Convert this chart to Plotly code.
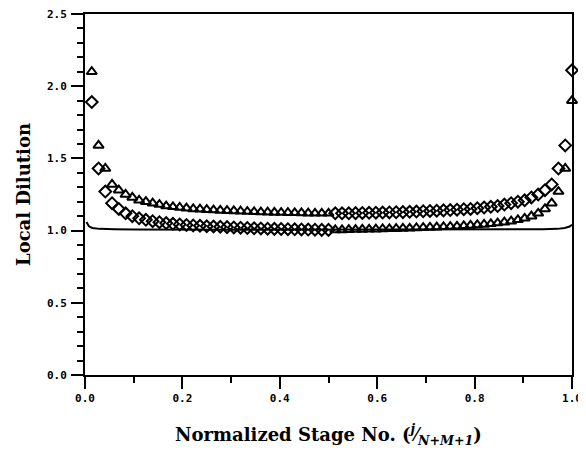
import plotly.graph_objects as go

# Normalized stage number j/(N+M+1), 72 stages
n_total = 72
stages = list(range(1, n_total + 1))

# Triangle series (local dilution)
tri_vals = [2.10, 1.59, 1.43, 1.32, 1.28, 1.25, 1.23, 1.21, 1.20, 1.19, 1.18, 1.17,
            1.165, 1.16, 1.155, 1.15, 1.148, 1.145, 1.142, 1.14, 1.138, 1.136, 1.134, 1.132,
            1.13, 1.128, 1.127, 1.126, 1.125, 1.124, 1.123, 1.122, 1.121, 1.12, 1.12, 1.12,
            1.005, 1.005, 1.006, 1.007, 1.008, 1.009, 1.010, 1.011, 1.012, 1.013, 1.015, 1.016,
            1.018, 1.020, 1.022, 1.024, 1.026, 1.028, 1.030, 1.033, 1.036, 1.039, 1.043, 1.047,
            1.052, 1.058, 1.065, 1.075, 1.085, 1.10, 1.12, 1.15, 1.19, 1.27, 1.43, 1.90]

# Diamond series (local dilution)
dia_vals = [1.89, 1.43, 1.27, 1.19, 1.15, 1.12, 1.10, 1.085, 1.075, 1.065, 1.058, 1.052,
            1.047, 1.043, 1.039, 1.036, 1.033, 1.030, 1.028, 1.026, 1.024, 1.022, 1.020, 1.018,
            1.016, 1.015, 1.013, 1.012, 1.011, 1.010, 1.009, 1.008, 1.007, 1.006, 1.005, 1.005,
            1.12, 1.12, 1.12, 1.121, 1.122, 1.123, 1.124, 1.125, 1.126, 1.127, 1.128, 1.13,
            1.132, 1.134, 1.136, 1.138, 1.14, 1.142, 1.145, 1.148, 1.15, 1.155, 1.16, 1.165,
            1.17, 1.18, 1.19, 1.20, 1.21, 1.23, 1.25, 1.28, 1.32, 1.43, 1.59, 2.11]

# Solid curve
line_x = [0.003, 0.008, 0.015, 0.03, 0.06, 0.1, 0.3, 0.5, 0.7, 0.9, 0.94, 0.97, 0.985, 0.995, 1.0]
line_y = [1.06, 1.03, 1.018, 1.012, 1.009, 1.007, 1.006, 1.006, 1.006, 1.007, 1.009, 1.012, 1.018, 1.028, 1.04]

x_ticks = [0.0, 0.2, 0.4, 0.6, 0.8, 1.0]
y_ticks = [0.0, 0.5, 1.0, 1.5, 2.0, 2.5]

xs = [s / n_total for s in stages]

fig = go.Figure()
fig.add_trace(go.Scatter(x=line_x, y=line_y, mode="lines",
                         line=dict(color="black", width=2), cliponaxis=False, showlegend=False))
fig.add_trace(go.Scatter(x=xs, y=tri_vals, mode="markers", cliponaxis=False, showlegend=False,
                         marker=dict(symbol="triangle-up-open", size=9, color="black",
                                     line=dict(width=2, color="black"))))
fig.add_trace(go.Scatter(x=xs, y=dia_vals, mode="markers", cliponaxis=False, showlegend=False,
                         marker=dict(symbol="diamond-open", size=9, color="black",
                                     line=dict(width=2, color="black"))))

tickfont = dict(family="DejaVu Sans Mono", size=11, color="black", weight="bold")
titlefont = dict(family="DejaVu Serif", size=18, color="black", weight="bold")

fig.update_xaxes(range=[0, 1], tickvals=x_ticks, tickformat=".1f", automargin=False,
                 showline=True, linecolor="black", linewidth=2, mirror=True,
                 ticks="outside", ticklen=12, tickwidth=2, tickcolor="black",
                 ticklabeloverflow="allow",
                 minor=dict(dtick=0.1, ticks="outside", ticklen=6, tickwidth=2, tickcolor="black"),
                 showgrid=False, zeroline=False, tickfont=tickfont,
                 title=dict(text="Normalized Stage No. (<sup><i>j</i></sup>⁄<sub><i>N+M+1</i></sub>)",
                            font=titlefont, standoff=24))
fig.update_yaxes(range=[0, 2.5], tickvals=y_ticks, tickformat=".1f", automargin=False,
                 showline=True, linecolor="black", linewidth=2, mirror=True,
                 ticks="outside", ticklen=12, tickwidth=2, tickcolor="black",
                 ticklabelstandoff=2, ticklabeloverflow="allow",
                 minor=dict(dtick=0.1, ticks="outside", ticklen=6, tickwidth=2, tickcolor="black"),
                 showgrid=False, zeroline=False, tickfont=tickfont,
                 title=dict(text="Local Dilution", font=titlefont, standoff=12))

fig.update_layout(width=586, height=453, margin=dict(l=77, r=22, t=6, b=86),
                  plot_bgcolor="white", paper_bgcolor="white")

fig.write_html("out.html")
